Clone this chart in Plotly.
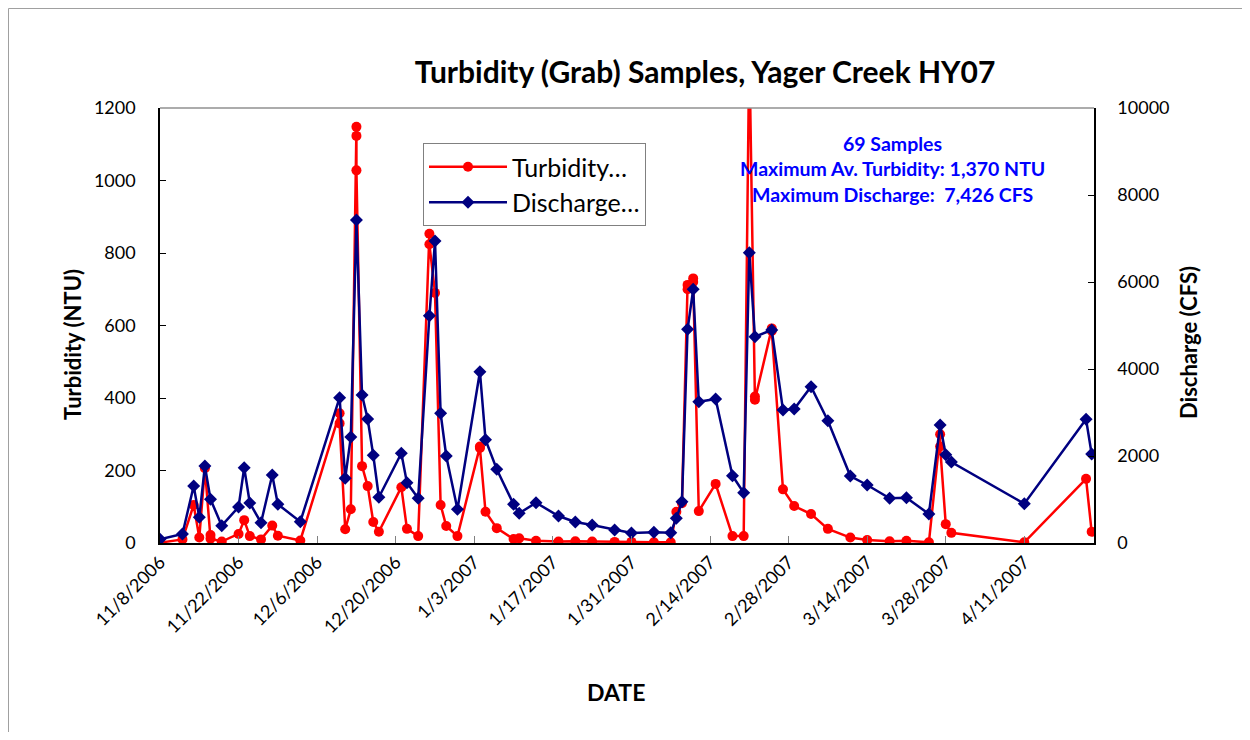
import plotly.graph_objects as go

# ---------------- data ----------------
turb_dates = [
    "2006-11-08", "2006-11-12", "2006-11-14", "2006-11-15", "2006-11-16", "2006-11-17", "2006-11-17",
    "2006-11-19", "2006-11-22", "2006-11-23", "2006-11-24", "2006-11-26", "2006-11-28", "2006-11-29",
    "2006-12-03", "2006-12-10", "2006-12-10", "2006-12-11", "2006-12-12", "2006-12-13", "2006-12-13",
    "2006-12-13", "2006-12-14", "2006-12-15", "2006-12-16", "2006-12-17", "2006-12-21", "2006-12-22",
    "2006-12-24", "2006-12-26", "2006-12-26", "2006-12-27", "2006-12-28", "2006-12-29", "2006-12-31",
    "2007-01-04", "2007-01-04", "2007-01-05", "2007-01-07", "2007-01-10", "2007-01-11", "2007-01-14",
    "2007-01-18", "2007-01-21", "2007-01-24", "2007-01-28", "2007-01-31", "2007-02-04", "2007-02-07",
    "2007-02-08", "2007-02-09", "2007-02-10", "2007-02-10", "2007-02-11", "2007-02-11", "2007-02-12",
    "2007-02-15", "2007-02-18", "2007-02-20", "2007-02-21", "2007-02-22", "2007-02-22", "2007-02-25",
    "2007-02-25", "2007-02-27", "2007-03-01", "2007-03-04", "2007-03-07", "2007-03-11", "2007-03-14",
    "2007-03-18", "2007-03-21", "2007-03-25", "2007-03-27", "2007-03-27", "2007-03-28", "2007-03-29",
    "2007-04-11", "2007-04-22", "2007-04-23",
]
turb_ntu = [
    1, 10, 105, 15, 206, 22, 12,
    4, 25, 63, 19, 10, 48, 20,
    7, 358, 330, 38, 93, 1148, 1123,
    1028, 212, 157, 58, 31, 154, 39,
    19, 853, 824, 690, 105, 47, 19,
    266, 262, 86, 41, 11, 13, 6,
    4, 5, 4, 3, 3, 2, 2,
    86, 110, 712, 700, 730, 720, 88,
    163, 19, 19, 1370, 404, 395, 592,
    585, 148, 102, 80, 39, 15, 8,
    5, 6, 2, 300, 266, 52, 28,
    2, 177, 31,
]

dis_dates = [
    "2006-11-08", "2006-11-12", "2006-11-14", "2006-11-15", "2006-11-16", "2006-11-17", "2006-11-19",
    "2006-11-22", "2006-11-23", "2006-11-24", "2006-11-26", "2006-11-28", "2006-11-29", "2006-12-03",
    "2006-12-10", "2006-12-11", "2006-12-12", "2006-12-13", "2006-12-14", "2006-12-15", "2006-12-16",
    "2006-12-17", "2006-12-21", "2006-12-22", "2006-12-24", "2006-12-26", "2006-12-27", "2006-12-28",
    "2006-12-29", "2006-12-31", "2007-01-04", "2007-01-05", "2007-01-07", "2007-01-10", "2007-01-11",
    "2007-01-14", "2007-01-18", "2007-01-21", "2007-01-24", "2007-01-28", "2007-01-31", "2007-02-04",
    "2007-02-07", "2007-02-08", "2007-02-09", "2007-02-10", "2007-02-11", "2007-02-12", "2007-02-15",
    "2007-02-18", "2007-02-20", "2007-02-21", "2007-02-22", "2007-02-25", "2007-02-27", "2007-03-01",
    "2007-03-04", "2007-03-07", "2007-03-11", "2007-03-14", "2007-03-18", "2007-03-21", "2007-03-25",
    "2007-03-27", "2007-03-28", "2007-03-29", "2007-04-11", "2007-04-22", "2007-04-23",
]
dis_cfs = [
    85, 207, 1310, 590, 1770, 1005, 398,
    828, 1731, 920, 467, 1563, 890, 490,
    3340, 1487, 2437, 7426, 3402, 2851, 2016,
    1051, 2062, 1386, 1028, 5225, 6943, 2982,
    2000, 775, 3938, 2375, 1694, 890, 683,
    926, 621, 483, 414, 299, 230, 246,
    237, 568, 949, 4913, 5832, 3248, 3310,
    1547, 1156, 6674, 4743, 4897, 3057, 3080,
    3593, 2811, 1540, 1333, 1028, 1041, 667,
    2713, 2030, 1862, 903, 2844, 2046,
]

tick_dates = ["2006-11-08", "2006-11-22", "2006-12-06", "2006-12-20", "2007-01-03", "2007-01-17",
              "2007-01-31", "2007-02-14", "2007-02-28", "2007-03-14", "2007-03-28", "2007-04-11"]
tick_labels = ["11/8/2006", "11/22/2006", "12/6/2006", "12/20/2006", "1/3/2007", "1/17/2007",
               "1/31/2007", "2/14/2007", "2/28/2007", "3/14/2007", "3/28/2007", "4/11/2007"]

info_lines = ["69 Samples", "Maximum Av. Turbidity: 1,370 NTU", "Maximum Discharge:  7,426 CFS"]

FONT = "Lato, 'Open Sans', sans-serif"

# figure is placed at page offset (8, 8) by the html body margin
W, H = 1234, 724
PL, PR, PT, PB = 152, 1086, 100, 535   # plot area in figure pixels
PW, PH = PR - PL, PB - PT


def px(x):
    return (x - 8 - PL) / PW


def py(y):
    return (PB - (y - 8)) / PH


fig = go.Figure()
fig.add_trace(go.Scatter(
    x=turb_dates, y=turb_ntu, name="Turbidity…", mode="lines+markers",
    line=dict(color="#FF0000", width=2.5),
    marker=dict(symbol="circle", size=10, color="#FF0000"),
    yaxis="y",
))
fig.add_trace(go.Scatter(
    x=dis_dates, y=dis_cfs, name="Discharge…", mode="lines+markers",
    line=dict(color="#000080", width=2.5),
    marker=dict(symbol="diamond", size=10, color="#000080"),
    yaxis="y2",
))

fig.update_layout(
    width=W, height=H,
    margin=dict(l=PL, r=W - PR, t=PT, b=H - PB),
    paper_bgcolor="white", plot_bgcolor="white",
    font=dict(family=FONT, size=18, color="black"),
    showlegend=True,
    legend=dict(
        x=px(423), y=py(143), xanchor="left", yanchor="top",
        bordercolor="#808080", borderwidth=1, bgcolor="white",
        font=dict(size=25, family=FONT), tracegroupgap=0,
        itemwidth=78,
    ),
    title=dict(
        text="<b>Turbidity (Grab) Samples, Yager Creek HY07</b>",
        x=(705 - 8) / W, xanchor="center", xref="container",
        y=1 - (72 - 8) / H, yanchor="middle", yref="container",
        font=dict(size=30, family=FONT),
    ),
    xaxis=dict(
        type="date",
        range=["2006-11-08", "2007-04-23 10:00"],
        tickvals=tick_dates, ticktext=tick_labels, tickangle=-45,
        ticks="inside", ticklen=7, tickcolor="#808080",
        showline=True, linecolor="black", linewidth=1.5, mirror=False,
        showgrid=False, zeroline=False,
        tickfont=dict(size=18),
    ),
    yaxis=dict(
        range=[0, 1200], dtick=200, tickmode="linear",
        ticks="inside", ticklen=6, tickcolor="black",
        showline=True, linecolor="black", linewidth=1.5,
        showgrid=False, zeroline=False,
        tickfont=dict(size=18), ticklabelstandoff=19,
    ),
    yaxis2=dict(
        range=[0, 10000], dtick=2000, tickmode="linear",
        overlaying="y", side="right", anchor="x",
        ticks="inside", ticklen=6, tickcolor="black",
        showline=True, linecolor="black", linewidth=1.5,
        showgrid=False, zeroline=False, exponentformat="none", tickformat="d",
        tickfont=dict(size=18), ticklabelstandoff=18,
    ),
)

# plot-area top border (gray)
fig.add_shape(type="line", xref="paper", yref="paper", x0=0, x1=1, y0=1, y1=1,
              line=dict(color="#909090", width=1.5))
# outer chart border (top and left)
bx = (0.5 - PL) / PW
by = (PB - 0.5) / PH
fig.add_shape(type="line", xref="paper", yref="paper", x0=bx, x1=1.2, y0=by, y1=by,
              line=dict(color="#A0A0A0", width=1))
fig.add_shape(type="line", xref="paper", yref="paper", x0=bx, x1=bx, y0=-0.5, y1=by,
              line=dict(color="#A0A0A0", width=1))

# axis titles
fig.add_annotation(text="<b>Turbidity (NTU)</b>", xref="paper", yref="paper",
                   x=px(72), y=py(345), textangle=-90, showarrow=False,
                   xanchor="center", yanchor="middle",
                   font=dict(size=22, family=FONT))
fig.add_annotation(text="<b>Discharge (CFS)</b>", xref="paper", yref="paper",
                   x=px(1188), y=py(343), textangle=-90, showarrow=False,
                   xanchor="center", yanchor="middle",
                   font=dict(size=22, family=FONT))
fig.add_annotation(text="<b>DATE</b>", xref="paper", yref="paper",
                   x=px(616), y=py(692), showarrow=False,
                   xanchor="center", yanchor="middle",
                   font=dict(size=23, family=FONT))

# info text
for i, line in enumerate(info_lines):
    ypx = 143 + 25.5 * i
    fig.add_annotation(text="<b>" + line + "</b>", xref="paper", yref="paper",
                       x=px(892), y=py(ypx), xanchor="center", yanchor="middle",
                       showarrow=False, font=dict(size=19.5, family=FONT, color="#0000FF"))

fig.write_html("out.html")
